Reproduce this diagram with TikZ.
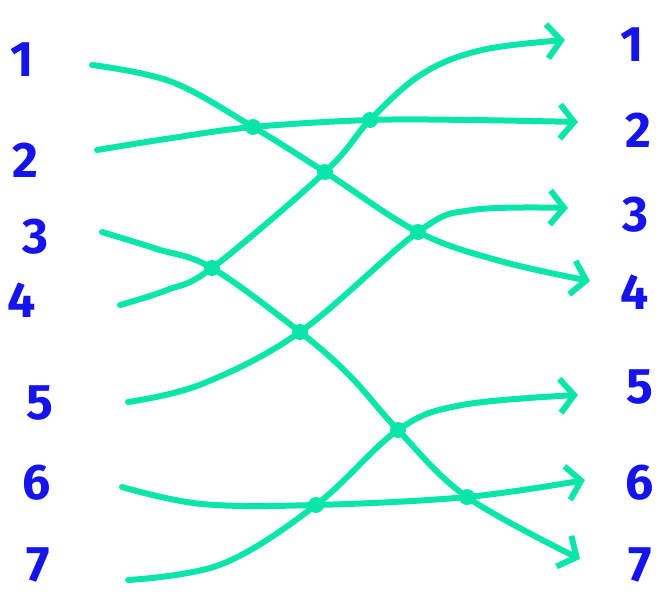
\documentclass[tikz,border=0pt]{standalone}
\usepackage{fontspec}
\setmainfont{Fira Sans}
\usepackage{tikz}
\usetikzlibrary{arrows.meta, positioning, calc}
\definecolor{mint}{RGB}{10,230,170}
\definecolor{ink}{RGB}{20,20,235}

\begin{document}
\begin{tikzpicture}[x=1pt, y=-1pt,
  every node/.style={font=\fontsize{50}{50}\selectfont\bfseries},
  num/.style={text=ink, inner sep=0pt},
  link/.style={mint, line width=6pt, line cap=round, line join=round},
  arr/.style={link, -{Straight Barb[length=14pt, width=34pt, line width=6pt]}},
  dot/.style={circle, fill=mint, inner sep=0pt, minimum size=16pt}
]
  \useasboundingbox (0,0) rectangle (664,597);
  % left column
  \node[num] (l1) at (22,60) {1};
  \node[num] (l2) at (25,160) {2};
  \node[num] (l3) at (35,237) {3};
  \node[num] (l4) at (22,300) {4};
  \node[num] (l5) at (40,403) {5};
  \node[num] (l6) at (37,483) {6};
  \node[num] (l7) at (38,565) {7};
  % right column
  \node[num] (r1) at (632,45) {1};
  \node[num] (r2) at (638,130) {2};
  \node[num] (r3) at (635,215) {3};
  \node[num] (r4) at (635,292) {4};
  \node[num] (r5) at (640,387) {5};
  \node[num] (r6) at (640,483) {6};
  \node[num] (r7) at (640,565) {7};
  % free ends
  \coordinate (s1) at (92,65);
  \coordinate (s2) at (97,150);
  \coordinate (s3) at (102,232);
  \coordinate (s4) at (120,305);
  \coordinate (s5) at (128,402);
  \coordinate (s6) at (122,487);
  \coordinate (s7) at (128,580);
  \coordinate (e1) at (565,40);
  \coordinate (e2) at (578,122);
  \coordinate (e3) at (568,208);
  \coordinate (e4) at (590,281);
  \coordinate (e5) at (578,395);
  \coordinate (e6) at (585,480);
  \coordinate (e7) at (580,559);
  % crossings
  \coordinate (a) at (253,127);
  \coordinate (b) at (370,120);
  \coordinate (c) at (325,172);
  \coordinate (d) at (418,232);
  \coordinate (e) at (212,268);
  \coordinate (f) at (300,332);
  \coordinate (g) at (398,430);
  \coordinate (h) at (316,505);
  \coordinate (k) at (467,497);

  \draw[arr] plot[smooth, tension=0.6] coordinates {(s1) (172,82) (a) (c) (d) (500,261) (e4)};
  \draw[arr] plot[smooth, tension=0.6] coordinates {(s2) (172,138) (a) (b) (470,120) (e2)};
  \draw[arr] plot[smooth, tension=0.6] coordinates {(s3) (157,249) (e) (f) (350,376) (g) (k) (e7)};
  \draw[arr] plot[smooth, tension=0.6] coordinates {(s4) (167,290) (e) (c) (b) (422,74) (482,50) (e1)};
  \draw[arr] plot[smooth, tension=0.6] coordinates {(s5) (202,384) (f) (d) (472,210) (e3)};
  \draw[arr] plot[smooth, tension=0.6] coordinates {(s6) (202,504) (h) (k) (e6)};
  \draw[arr] plot[smooth, tension=0.6] coordinates {(s7) (222,564) (h) (g) (462,405) (e5)};

  \foreach \p in {a,b,c,d,e,f,g,h,k}
    \node[dot] at (\p) {};
\end{tikzpicture}
\end{document}
